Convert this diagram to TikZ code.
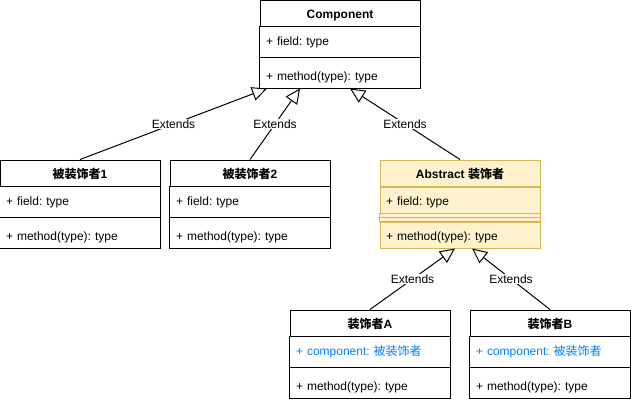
\documentclass[tikz,border=0pt]{standalone}
\usepackage{fontspec}
\setmainfont{Liberation Sans}
\newfontfamily\cjk{Noto Sans CJK SC}
\usepackage{tikz}
\usetikzlibrary{arrows.meta, positioning}
\definecolor{noteFill}{HTML}{FFF2CC}
\definecolor{noteLine}{HTML}{D6B656}
\definecolor{linkBlue}{HTML}{007FFF}
\frenchspacing

\begin{document}
\begin{tikzpicture}[
    x=1pt, y=-1pt,
    font=\fontsize{12pt}{14pt}\selectfont,
    head/.style={draw, line width=1pt, minimum width=160pt, minimum height=26pt, inner sep=0pt, text height=10pt, text depth=0pt, font=\fontsize{12pt}{14pt}\selectfont\bfseries},
    row/.style={minimum width=160pt, text width=148pt, minimum height=26pt, inner xsep=6pt, inner ysep=0pt, text height=10pt, text depth=0pt, align=left, line width=1pt},
    yellow/.style={fill=noteFill, draw=noteLine},
    member/.style={text=linkBlue},
    frame/.style={line width=1pt},
    ext/.style={-{Triangle[open, length=15pt, width=14pt, line width=1pt]}, line width=1pt},
    lbl/.style={fill=white, inner sep=1pt}
]
\useasboundingbox (0,0) rectangle (631,400);

% Component
\node[head] (comp) at (340,13) {Component};
\node[row, below=0pt of comp] (compF) {+ field: type};
\node[row, below=8pt of compF] (compM) {+ method(type): type};
\draw[frame] (comp.south west) rectangle (compM.south east);
\draw[frame] ([yshift=-4pt]compF.south west) -- ([yshift=-4pt]compF.south east);

% 被装饰者1
\node[head] (d1) at (80,173) {{\cjk 被装饰者}1};
\node[row, below=0pt of d1] (d1F) {+ field: type};
\node[row, below=8pt of d1F] (d1M) {+ method(type): type};
\draw[frame] (d1.south west) rectangle (d1M.south east);
\draw[frame] ([yshift=-4pt]d1F.south west) -- ([yshift=-4pt]d1F.south east);

% 被装饰者2
\node[head] (d2) at (250,173) {{\cjk 被装饰者}2};
\node[row, below=0pt of d2] (d2F) {+ field: type};
\node[row, below=8pt of d2F] (d2M) {+ method(type): type};
\draw[frame] (d2.south west) rectangle (d2M.south east);
\draw[frame] ([yshift=-4pt]d2F.south west) -- ([yshift=-4pt]d2F.south east);

% Abstract 装饰者
\node[head, yellow] (abs) at (460,173) {Abstract {\cjk 装饰者}};
\node[row, yellow, below=0pt of abs] (absF) {+ field: type};
\node[row, yellow, below=8pt of absF] (absM) {+ method(type): type};
\draw[frame, yellow] (absF.south west) rectangle (absM.north east);
\draw[frame, draw=noteLine] ([yshift=-4pt]absF.south west) -- ([yshift=-4pt]absF.south east);

% 装饰者A
\node[head] (decA) at (370,323) {{\cjk 装饰者}A};
\node[row, member, below=0pt of decA] (decAF) {+ component: {\cjk 被装饰者}};
\node[row, below=8pt of decAF] (decAM) {+ method(type): type};
\draw[frame] (decA.south west) rectangle (decAM.south east);
\draw[frame] ([yshift=-4pt]decAF.south west) -- ([yshift=-4pt]decAF.south east);

% 装饰者B
\node[head] (decB) at (550,323) {{\cjk 装饰者}B};
\node[row, member, below=0pt of decB] (decBF) {+ component: {\cjk 被装饰者}};
\node[row, below=8pt of decBF] (decBM) {+ method(type): type};
\draw[frame] (decB.south west) rectangle (decBM.south east);
\draw[frame] ([yshift=-4pt]decBF.south west) -- ([yshift=-4pt]decBF.south east);

% Extends
\draw[ext] (d1.north) -- node[lbl] {Extends} ([xshift=-73pt]compM.south);
\draw[ext] (d2.north) -- node[lbl] {Extends} ([xshift=-40pt]compM.south);
\draw[ext] (abs.north) -- node[lbl] {Extends} ([xshift=10pt]compM.south);
\draw[ext] (decA.north) -- node[lbl] {Extends} ([xshift=-5pt]absM.south);
\draw[ext] (decB.north) -- node[lbl] {Extends} ([xshift=12pt]absM.south);
\end{tikzpicture}
\end{document}
